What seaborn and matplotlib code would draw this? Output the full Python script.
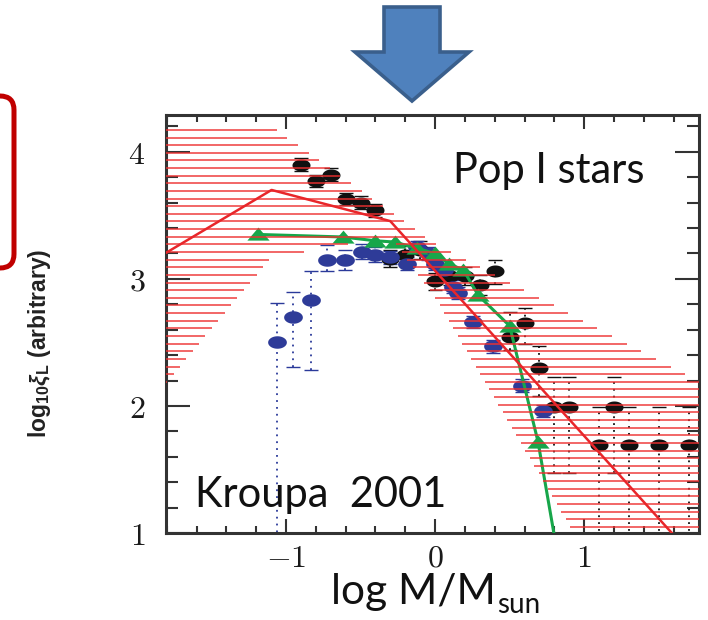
import numpy as np
import pandas as pd
import matplotlib
matplotlib.use("Agg")
import matplotlib.pyplot as plt
import seaborn as sns
from matplotlib.path import Path
from matplotlib.patches import Polygon, FancyBboxPatch
from matplotlib.ticker import MultipleLocator, FixedLocator
from matplotlib.transforms import IdentityTransform

# ---------------- data ----------------
black_x = [-0.9, -0.8, -0.7, -0.6, -0.5, -0.4, -0.3, -0.2, -0.1, 0.0, 0.1, 0.2,
           0.3, 0.4, 0.5, 0.6, 0.7, 0.8, 0.9, 1.1, 1.2, 1.3, 1.5, 1.7]
black_y = [3.90, 3.77, 3.82, 3.63, 3.60, 3.54, 3.16, 3.19, 3.23, 2.98, 3.02, 3.02,
           2.95, 3.06, 2.54, 2.65, 2.30, 1.99, 1.99, 1.69, 1.99, 1.69, 1.69, 1.69]
black_lo = [0.05] * 6 + [0.07] * 6 + [0.08, 0.10, 0.10, 0.16, 0.22, 0.52, 0.52,
                                      1.0, 0.52, 1.0, 1.0, 1.0]
black_hi = [0.05] * 6 + [0.07] * 6 + [0.08, 0.09, 0.20, 0.12, 0.17, 0.24, 0.24,
                                      0.30, 0.24, 0.30, 0.30, 0.30]

blue_x = [-1.06, -0.955, -0.835, -0.725, -0.605, -0.49, -0.40, -0.30, -0.19, -0.12,
          -0.05, 0.0, 0.06, 0.12, 0.155, 0.255, 0.39, 0.58, 0.725]
blue_y = [2.50, 2.70, 2.83, 3.15, 3.15, 3.215, 3.19, 3.17, 3.12, 3.25,
          3.20, 3.12, 3.07, 2.94, 2.89, 2.66, 2.47, 2.16, 1.96]
blue_lo = [1.6, 0.39, 0.55, 0.09, 0.08, 0.06, 0.06] + [0.05] * 12
blue_hi = [0.31, 0.20, 0.23, 0.12, 0.08, 0.06, 0.06] + [0.05] * 12

green_x = [-1.19, -0.62, -0.40, -0.27, -0.12, 0.0, 0.09, 0.19, 0.29, 0.50, 0.69, 0.90]
green_y = [3.35, 3.33, 3.30, 3.29, 3.24, 3.20, 3.12, 3.07, 2.87, 2.63, 1.72, 0.30]

kroupa_x = [-1.805, -1.097, -0.301, 1.77]
kroupa_y = [3.205, 3.70, 3.455, 0.763]

band_upper_x = [-1.805, -1.062, 0.0, 1.77]
band_upper_y = [4.173, 4.173, 3.277, 2.194]
band_lower_x = [-1.805, -1.10, -0.30, 0.0, 1.77]
band_lower_y = [2.178, 3.167, 3.33, 2.85, -0.67]
band_top = 4.173
band_step = 0.0601
band_nlines = 53

x_ticks = [-1, 0, 1]
x_ticklabels = [r"$-1$", r"$0$", r"$1$"]
y_ticks = [1, 2, 3, 4]
y_ticklabels = [r"$1$", r"$2$", r"$3$", r"$4$"]
xlim = (-1.805, 1.77)
ylim = (1.0, 4.29)

# ---------------- style ----------------
sns.set_style("ticks")
plt.rcParams["font.family"] = ["DejaVu Sans"]
plt.rcParams["mathtext.fontset"] = "custom"
plt.rcParams["mathtext.rm"] = "Liberation Sans:bold"
plt.rcParams["mathtext.it"] = "Liberation Sans:bold:italic"
plt.rcParams["mathtext.bf"] = "Liberation Sans:bold"

W, H = 708, 620
fig = plt.figure(figsize=(W / 100, H / 100), dpi=100)
ax = fig.add_axes([166 / W, 1 - 533 / H, (699 - 166) / W, (533 - 115) / H])
ax.set_xlim(*xlim)
ax.set_ylim(*ylim)

# hatched uncertainty band (horizontal lines inside band)
xs = np.linspace(xlim[0], xlim[1], 4000)
Lx = np.interp(xs, band_lower_x, band_lower_y)
Ux = np.interp(xs, band_upper_x, band_upper_y)
ys_seg, x0_seg, x1_seg = [], [], []
for k in range(band_nlines):
    lev = band_top - k * band_step
    inside = (Lx <= lev) & (Ux >= lev - 1e-6)
    if not inside.any():
        continue
    d = np.diff(np.concatenate([[0], inside.astype(int), [0]]))
    starts = np.where(d == 1)[0]
    ends = np.where(d == -1)[0] - 1
    for s, e in zip(starts, ends):
        ys_seg.append(lev)
        x0_seg.append(xs[s])
        x1_seg.append(xs[e])
ax.hlines(ys_seg, x0_seg, x1_seg, colors="#ee3030", linewidth=1.15, alpha=0.9, zorder=4)

# marker shapes
th = np.linspace(0, 2 * np.pi, 40)
ellipse = Path(np.column_stack([1.5 * np.cos(th), np.sin(th)]), closed=True)
tri = Path([(-1.0, -0.55), (1.0, -0.55), (0.0, 0.62), (-1.0, -0.55)], closed=True)

# black data with dotted error bars
eb = ax.errorbar(black_x, black_y, yerr=[black_lo, black_hi], fmt="none",
                 ecolor="#111111", elinewidth=1.3, capsize=5, capthick=1.0, zorder=2)
eb[2][0].set_linestyle((0, (1, 2.8)))
sns.scatterplot(x=black_x, y=black_y, marker=ellipse, s=13 ** 2, color="#111111",
                linewidth=0, ax=ax, zorder=3)

# blue data with dotted error bars
eb2 = ax.errorbar(blue_x, blue_y, yerr=[blue_lo, blue_hi], fmt="none",
                  ecolor="#2b3a9a", elinewidth=1.3, capsize=5, capthick=1.0, zorder=2)
eb2[2][0].set_linestyle((0, (1, 2.8)))
sns.scatterplot(x=blue_x, y=blue_y, marker=ellipse, s=13.5 ** 2, color="#2e3b98",
                linewidth=0, ax=ax, zorder=3)

# green line with triangles
sns.lineplot(x=green_x, y=green_y, sort=False, color="#17a64a", linewidth=2.2,
             marker=tri, markersize=16, markeredgewidth=0, ax=ax, zorder=3)

# Kroupa 2001 IMF line
sns.lineplot(x=kroupa_x, y=kroupa_y, sort=False, color="#e8262a", linewidth=1.8,
             ax=ax, zorder=5)

# axes styling
for sp in ax.spines.values():
    sp.set_linewidth(2.2)
    sp.set_color("#333333")
    sp.set_visible(True)
ax.xaxis.set_major_locator(FixedLocator(x_ticks))
ax.xaxis.set_minor_locator(MultipleLocator(0.2))
ax.yaxis.set_major_locator(FixedLocator(y_ticks))
ax.yaxis.set_minor_locator(MultipleLocator(0.2))
ax.set_xticklabels(x_ticklabels, math_fontfamily="cm", fontsize=23, color="#1a1a1a")
ax.set_yticklabels(y_ticklabels, math_fontfamily="cm", fontsize=23, color="#1a1a1a")
ax.tick_params(which="both", direction="in", top=True, right=True, color="#333333", width=1.5)
ax.tick_params(axis="x", which="major", length=10, pad=7)
ax.tick_params(axis="x", which="minor", length=5)
ax.tick_params(axis="y", which="major", length=17, pad=15)
ax.tick_params(axis="y", which="minor", length=8.5)
ax.set_xlabel("")
ax.set_ylabel("")
ax.legend_ = None

# annotations inside plot
ax.text(0.12, 3.756, "Pop I stars", family="Lato", fontsize=30, va="baseline",
        ha="left", color="#111111", zorder=6)
ax.text(-1.61, 1.205, "Kroupa  2001", family="Lato", fontsize=30, va="baseline",
        ha="left", color="#111111", zorder=6)

# axis labels
fig.text(40 / W, 1 - 343 / H, r"$\mathrm{log}_{10}\xi_{\mathrm{L}}\ \mathrm{(arbitrary)}$",
         rotation=90, ha="center", va="center", fontsize=16.5, color="#222222",
         math_fontfamily="custom")
xl = fig.text(331 / W, 1 - 604 / H, "log M/M", family="Lato", fontsize=30.5,
              ha="left", va="baseline", color="#111111")
fig.canvas.draw()
bb = xl.get_window_extent(fig.canvas.get_renderer())
fig.text((bb.x1 + 1) / W, 1 - 613 / H, "sun", family="Lato", fontsize=20,
         ha="left", va="baseline", color="#111111")

# slide decorations: blue arrow and red rounded box
arrow_px = [(384, 7), (440, 7), (440, 52), (469, 52), (412, 101), (355, 52), (384, 52)]
arrow = Polygon([(x, H - y) for x, y in arrow_px], closed=True, transform=IdentityTransform(),
                facecolor="#4F81BD", edgecolor="#3A5F8C", linewidth=2.6, joinstyle="miter")
fig.patches.append(arrow)
box = FancyBboxPatch((-40, H - 268), 54, 172, boxstyle="round,pad=0,rounding_size=14",
                     transform=IdentityTransform(), facecolor="none",
                     edgecolor="#C00000", linewidth=3.6)
fig.patches.append(box)

fig.savefig("out.png", dpi=100)
